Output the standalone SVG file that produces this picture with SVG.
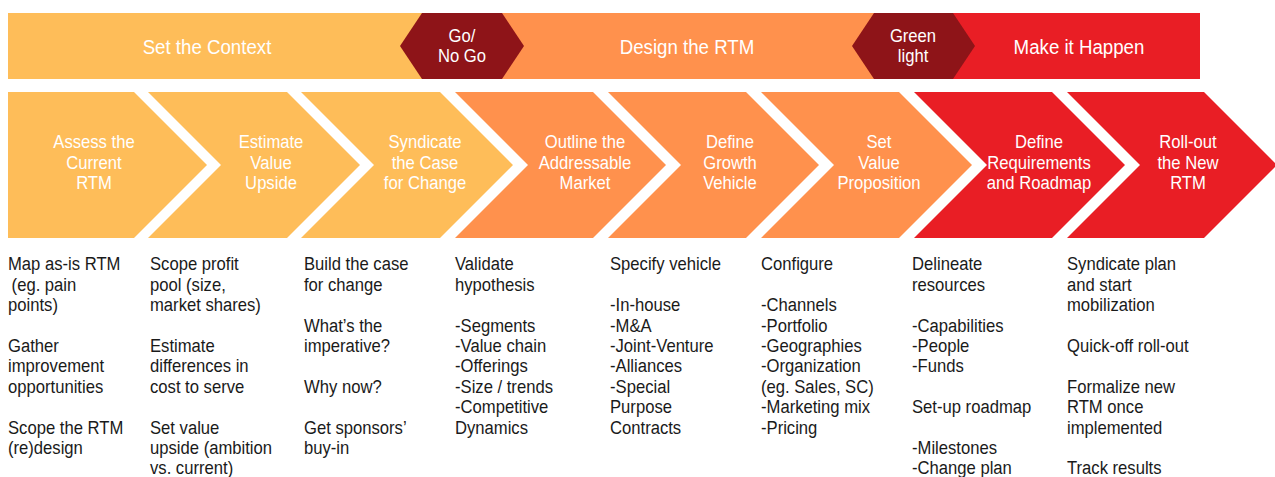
<svg xmlns="http://www.w3.org/2000/svg" width="1275" height="477" viewBox="0 0 1275 477">
<style>
.lo{fill:#FEBD59}.or{fill:#FF914D}.rd{fill:#E91E25}.dk{fill:#8E1418}
.wt{fill:#FFFFFF;font-family:"Liberation Sans",Arial,sans-serif;text-anchor:middle}
.bt{font-size:21px}.ct{font-size:18.5px}
.body{fill:#1a1a1a;font-family:"Liberation Sans",Arial,sans-serif;font-size:18.5px}
</style>
<rect width="1275" height="477" fill="#FFFFFF"/>
<g id="phase-bar">
<rect class="lo" x="8" y="13" width="454" height="66"/>
<rect class="or" x="462" y="13" width="451" height="66"/>
<rect class="rd" x="913" y="13" width="287" height="66"/>
<text class="wt bt" transform="translate(207,53.5) scale(0.89,1)" x="0" y="0">Set the Context</text>
<text class="wt bt" transform="translate(687,53.5) scale(0.89,1)" x="0" y="0">Design the RTM</text>
<text class="wt bt" transform="translate(1079,53.5) scale(0.89,1)" x="0" y="0">Make it Happen</text>
</g>
<g id="gate-go">
<polygon class="dk" points="400,46 422,13 502,13 524,46 502,79 422,79"/>
<text class="wt ct" transform="translate(462,0) scale(0.9,1)"><tspan x="0" y="42.5">Go/</tspan><tspan x="0" y="62.5">No Go</tspan></text>
</g>
<g id="gate-green">
<polygon class="dk" points="852,46 874,13 953,13 975,46 953,79 874,79"/>
<text class="wt ct" transform="translate(913,0) scale(0.9,1)"><tspan x="0" y="42.5">Green</tspan><tspan x="0" y="62.5">light</tspan></text>
</g>
<g id="connectors"></g>
<g id="step1">
<polygon class="lo" points="8,92 134,92 207,165 134,238 8,238"/>
<text class="wt ct" transform="translate(94,0) scale(0.9,1)"><tspan x="0" y="148.5">Assess the</tspan><tspan x="0" y="169">Current</tspan><tspan x="0" y="189.5">RTM</tspan></text>
</g>
<g id="step2">
<polygon class="lo" points="148,92 287,92 360,165 287,238 148,238 221,165"/>
<text class="wt ct" transform="translate(271,0) scale(0.9,1)"><tspan x="0" y="148.5">Estimate</tspan><tspan x="0" y="169">Value</tspan><tspan x="0" y="189.5">Upside</tspan></text>
</g>
<g id="step3">
<polygon class="lo" points="301,92 440,92 513,165 440,238 301,238 374,165"/>
<text class="wt ct" transform="translate(425,0) scale(0.9,1)"><tspan x="0" y="148.5">Syndicate</tspan><tspan x="0" y="169">the Case</tspan><tspan x="0" y="189.5">for Change</tspan></text>
</g>
<g id="step4">
<polygon class="or" points="455,92 593,92 666,165 593,238 455,238 528,165"/>
<text class="wt ct" transform="translate(585,0) scale(0.9,1)"><tspan x="0" y="148.5">Outline the</tspan><tspan x="0" y="169">Addressable</tspan><tspan x="0" y="189.5">Market</tspan></text>
</g>
<g id="step5">
<polygon class="or" points="608,92 746,92 819,165 746,238 608,238 681,165"/>
<text class="wt ct" transform="translate(730,0) scale(0.9,1)"><tspan x="0" y="148.5">Define</tspan><tspan x="0" y="169">Growth</tspan><tspan x="0" y="189.5">Vehicle</tspan></text>
</g>
<g id="step6">
<polygon class="or" points="761,92 899,92 972,165 899,238 761,238 834,165"/>
<text class="wt ct" transform="translate(879,0) scale(0.9,1)"><tspan x="0" y="148.5">Set</tspan><tspan x="0" y="169">Value</tspan><tspan x="0" y="189.5">Proposition</tspan></text>
</g>
<g id="step7">
<polygon class="rd" points="914,92 1052,92 1125,165 1052,238 914,238 987,165"/>
<text class="wt ct" transform="translate(1039,0) scale(0.9,1)"><tspan x="0" y="148.5">Define</tspan><tspan x="0" y="169">Requirements</tspan><tspan x="0" y="189.5">and Roadmap</tspan></text>
</g>
<g id="step8">
<polygon class="rd" points="1067,92 1204,92 1277,165 1204,238 1067,238 1140,165"/>
<text class="wt ct" transform="translate(1188,0) scale(0.9,1)"><tspan x="0" y="148.5">Roll-out</tspan><tspan x="0" y="169">the New</tspan><tspan x="0" y="189.5">RTM</tspan></text>
</g>
<g id="col1">
<text class="body" transform="translate(8,0) scale(0.9,1)"><tspan x="0" y="270.5">Map as-is RTM</tspan><tspan x="4" y="291">(eg. pain</tspan><tspan x="0" y="311.3">points)</tspan><tspan x="0" y="352">Gather</tspan><tspan x="0" y="372.5">improvement</tspan><tspan x="0" y="393">opportunities</tspan><tspan x="0" y="433.7">Scope the RTM</tspan><tspan x="0" y="454">(re)design</tspan></text>
</g>
<g id="col2">
<text class="body" transform="translate(150,0) scale(0.9,1)"><tspan x="0" y="270.5">Scope profit</tspan><tspan x="0" y="291">pool (size,</tspan><tspan x="0" y="311.3">market shares)</tspan><tspan x="0" y="352">Estimate</tspan><tspan x="0" y="372.5">differences in</tspan><tspan x="0" y="393">cost to serve</tspan><tspan x="0" y="433.7">Set value</tspan><tspan x="0" y="454">upside (ambition</tspan><tspan x="0" y="474.5">vs. current)</tspan></text>
</g>
<g id="col3">
<text class="body" transform="translate(304,0) scale(0.9,1)"><tspan x="0" y="270.5">Build the case</tspan><tspan x="0" y="291">for change</tspan><tspan x="0" y="331.7">What’s the</tspan><tspan x="0" y="352">imperative?</tspan><tspan x="0" y="393">Why now?</tspan><tspan x="0" y="433.7">Get sponsors’</tspan><tspan x="0" y="454">buy-in</tspan></text>
</g>
<g id="col4">
<text class="body" transform="translate(455,0) scale(0.9,1)"><tspan x="0" y="270.5">Validate</tspan><tspan x="0" y="291">hypothesis</tspan><tspan x="0" y="331.7">-Segments</tspan><tspan x="0" y="352">-Value chain</tspan><tspan x="0" y="372.5">-Offerings</tspan><tspan x="0" y="393">-Size / trends</tspan><tspan x="0" y="413.3">-Competitive</tspan><tspan x="0" y="433.7">Dynamics</tspan></text>
</g>
<g id="col5">
<text class="body" transform="translate(610,0) scale(0.9,1)"><tspan x="0" y="270.5">Specify vehicle</tspan><tspan x="0" y="311.3">-In-house</tspan><tspan x="0" y="331.7">-M&amp;A</tspan><tspan x="0" y="352">-Joint-Venture</tspan><tspan x="0" y="372.5">-Alliances</tspan><tspan x="0" y="393">-Special</tspan><tspan x="0" y="413.3">Purpose</tspan><tspan x="0" y="433.7">Contracts</tspan></text>
</g>
<g id="col6">
<text class="body" transform="translate(761,0) scale(0.9,1)"><tspan x="0" y="270.5">Configure</tspan><tspan x="0" y="311.3">-Channels</tspan><tspan x="0" y="331.7">-Portfolio</tspan><tspan x="0" y="352">-Geographies</tspan><tspan x="0" y="372.5">-Organization</tspan><tspan x="0" y="393">(eg. Sales, SC)</tspan><tspan x="0" y="413.3">-Marketing mix</tspan><tspan x="0" y="433.7">-Pricing</tspan></text>
</g>
<g id="col7">
<text class="body" transform="translate(912,0) scale(0.9,1)"><tspan x="0" y="270.5">Delineate</tspan><tspan x="0" y="291">resources</tspan><tspan x="0" y="331.7">-Capabilities</tspan><tspan x="0" y="352">-People</tspan><tspan x="0" y="372.5">-Funds</tspan><tspan x="0" y="413.3">Set-up roadmap</tspan><tspan x="0" y="454">-Milestones</tspan><tspan x="0" y="474.5">-Change plan</tspan></text>
</g>
<g id="col8">
<text class="body" transform="translate(1067,0) scale(0.9,1)"><tspan x="0" y="270.5">Syndicate plan</tspan><tspan x="0" y="291">and start</tspan><tspan x="0" y="311.3">mobilization</tspan><tspan x="0" y="352">Quick-off roll-out</tspan><tspan x="0" y="393">Formalize new</tspan><tspan x="0" y="413.3">RTM once</tspan><tspan x="0" y="433.7">implemented</tspan><tspan x="0" y="474.5">Track results</tspan></text>
</g>
</svg>
